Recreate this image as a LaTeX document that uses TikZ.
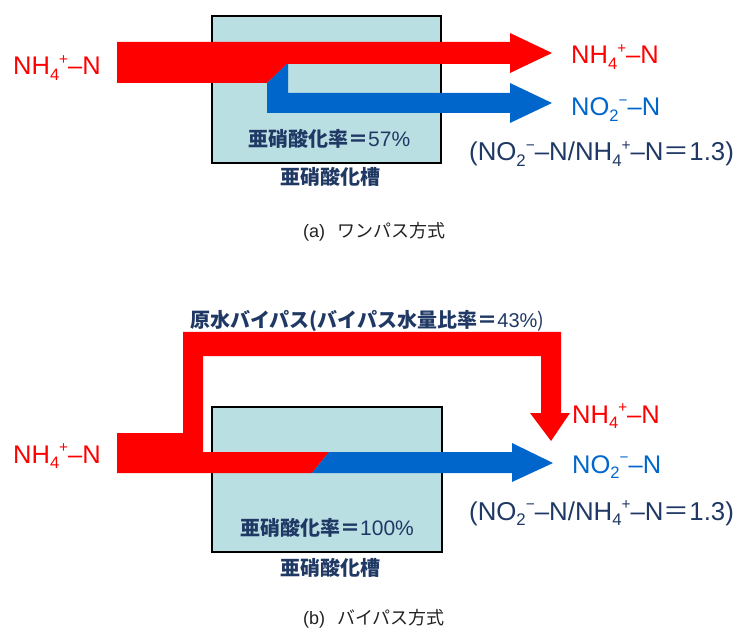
\documentclass[tikz,border=0pt]{standalone}
\usepackage{fontspec}
\usepackage{graphicx}
\setmainfont{Liberation Sans}
\newfontfamily\jp{Noto Sans CJK JP}
\definecolor{rd}{HTML}{FF0000}
\definecolor{bl}{HTML}{0066CC}
\definecolor{tank}{HTML}{BADFE3}
\definecolor{navy}{HTML}{1F3864}
\definecolor{capc}{HTML}{222222}
\newcommand\lo[1]{\raisebox{-0.22em}{\scalebox{0.65}{#1}}}
\newcommand\hi[1]{\raisebox{0.42em}{\scalebox{0.6}{#1}}}
\newcommand\nh{NH\lo{4}\hi{+}\textendash N}
\newcommand\no{NO\lo{2}\hi{\textminus}\textendash N}
\begin{document}
\begin{tikzpicture}[x=1pt,y=-1pt,
  lbl/.style={font=\fontsize{25.5}{26}\selectfont, inner sep=0pt, anchor=base west},
  ratio/.style={font=\fontsize{25.8}{26}\selectfont, text=navy, inner sep=0pt, anchor=base west},
  jtxt/.style={font=\fontsize{20}{20}\selectfont\jp\bfseries, text=navy, inner sep=0pt, anchor=west},
  captxt/.style={font=\fontsize{18}{18}\selectfont, text=capc, inner sep=0pt, anchor=west},
  tankbox/.style={draw=black, line width=1.6pt, fill=tank, inner sep=0pt, anchor=north west}]
\useasboundingbox (0,0) rectangle (739,628);

% ---------- (a) ----------
\node[tankbox, minimum width=229pt, minimum height=147pt] (tankA) at (211,15) {};
\fill[rd] (117,42) -- (510,42) -- (510,33) -- (552,53) -- (510,73) -- (510,64)
  -- (287,64) -- (267,83) -- (117,83) -- cycle;
\fill[bl] (267,83) -- (287,64) -- (288,64) -- (288,93) -- (510,93) -- (510,83)
  -- (552,103) -- (510,123) -- (510,113) -- (267,113) -- cycle;

\node[lbl, text=rd] (inA) at (13,75) {\nh};
\node[lbl, text=rd] (outNHA) at (571,64) {\nh};
\node[lbl, text=bl] (outNOA) at (571,116) {\no};
\node[ratio] (ratioA) at (469,161) {(\no/\nh{\jp＝}1.3)};
\node[jtxt] (rateA) at (248,139) {\jp 亜硝酸化率＝\normalfont\fontsize{21}{21}\selectfont 57\%};
\node[jtxt] (nameA) at (280,177) {亜硝酸化槽};
\node[captxt] (capA) at (303,232) {(a)\hspace{12pt}{\jp ワンパス方式}};

% ---------- (b) ----------
\node[tankbox, minimum width=230pt, minimum height=145pt] (tankB) at (211,406) {};
\fill[rd] (117,433) -- (183,433) -- (183,332) -- (561,332) -- (561,413) -- (570,413)
  -- (551,441) -- (530,413) -- (541,413) -- (541,356) -- (203,356) -- (203,452)
  -- (329,452) -- (312,473) -- (117,473) -- cycle;
\fill[bl] (329,452) -- (512,452) -- (512,443) -- (553,463) -- (512,482) -- (512,473)
  -- (312,473) -- cycle;

\node[jtxt] (bypass) at (190,321) {原水バイパス(バイパス水量比率＝\normalfont 43\%\jp )};
\node[lbl, text=rd] (inB) at (13,463) {\nh};
\node[lbl, text=rd] (outNHB) at (572,423) {\nh};
\node[lbl, text=bl] (outNOB) at (572,473) {\no};
\node[ratio] (ratioB) at (469,520) {(\no/\nh{\jp＝}1.3)};
\node[jtxt] (rateB) at (240,528) {\jp 亜硝酸化率＝\normalfont\fontsize{21}{21}\selectfont 100\%};
\node[jtxt] (nameB) at (280,568) {亜硝酸化槽};
\node[captxt] (capB) at (303,619) {(b)\hspace{12pt}{\jp バイパス方式}};
\end{tikzpicture}
\end{document}
